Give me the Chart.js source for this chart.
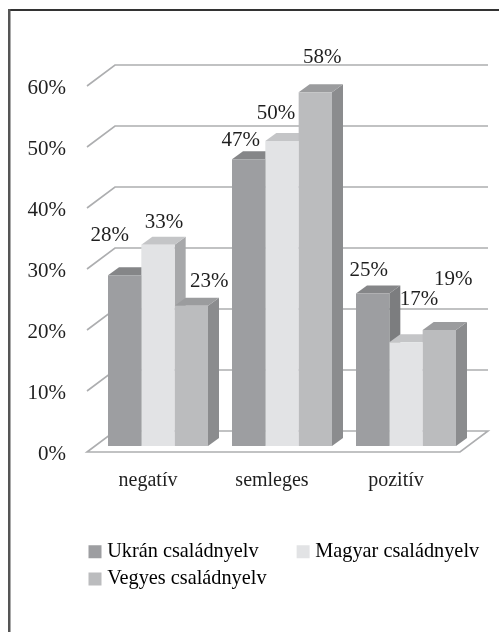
<!DOCTYPE html>
<html><head><meta charset="utf-8">
<style>html,body{margin:0;padding:0;background:#fff}#w{position:relative;width:499px;height:632px}</style>
<script src="https://cdn.jsdelivr.net/npm/chart.js@4/dist/chart.umd.js"></script>
</head><body><div id="w"><canvas id="c"></canvas></div>
<script>
const categories = ['negatív','semleges','pozitív'];
const seriesNames = ['Ukrán családnyelv','Magyar családnyelv','Vegyes családnyelv'];
const ukran = [28,47,25];
const magyar = [33,50,17];
const vegyes = [23,58,19];
const yTicks = [0,10,20,30,40,50,60];

const frontColors = ['#9d9ea1','#e2e3e5','#bbbcbe'];
const topColors = ['#858688','#c4c5c7','#9b9c9e'];
const sideColors = ['#7c7d7f','#a7a8aa','#8b8c8e'];
// label nudges from each bar's top centre [dx, dy]
const labelNudges = [
  [[-15,-40],[6,-22],[18,-24]],
  [[-8,-19],[-6,-28],[7,-35]],
  [[-4,-23],[13,-43],[14,-51]]
];
const FONT = '"Liberation Serif", serif';
const TEXT = '#1f1f1f';
const DX = 11, DY = 8;

const scene = {
  id:'scene',
  beforeDraw(chart){
    const {ctx,width,height} = chart;
    ctx.save();
    ctx.fillStyle='#fff'; ctx.fillRect(0,0,width,height);
    ctx.strokeStyle='#333'; ctx.lineWidth=2;
    ctx.beginPath(); ctx.moveTo(8,10); ctx.lineTo(width,10); ctx.stroke();
    ctx.strokeStyle='#555'; ctx.lineWidth=2.5;
    ctx.beginPath(); ctx.moveTo(9.25,9); ctx.lineTo(9.25,height); ctx.stroke();
    ctx.restore();
  },
  beforeDatasetsDraw(chart){
    const {ctx,chartArea:a} = chart;
    const y = chart.scales.y;
    const x0 = a.left-9, x1 = a.right-8, bx = 28, fr = 6, bk = -15;
    ctx.save();
    ctx.strokeStyle='#adaeb0'; ctx.lineWidth=1.6;
    yTicks.forEach(t=>{
      const p = y.getPixelForValue(t);
      ctx.beginPath();
      ctx.moveTo(x0,p+fr); ctx.lineTo(x0+bx,p+bk); ctx.lineTo(x1+bx,p+bk);
      if(t===0){ ctx.lineTo(x1,p+fr); ctx.closePath(); }
      ctx.stroke();
    });
    categories.forEach((_,i)=>{
      chart.data.datasets.forEach((ds,d)=>{
        const b = chart.getDatasetMeta(d).data[i];
        const l = b.x-b.width/2, r = b.x+b.width/2;
        ctx.fillStyle = sideColors[d];
        ctx.beginPath();
        ctx.moveTo(r,b.y); ctx.lineTo(r+DX,b.y-DY); ctx.lineTo(r+DX,b.base-DY); ctx.lineTo(r,b.base); ctx.closePath(); ctx.fill();
        ctx.fillStyle = topColors[d];
        ctx.beginPath();
        ctx.moveTo(l,b.y); ctx.lineTo(l+DX,b.y-DY); ctx.lineTo(r+DX,b.y-DY); ctx.lineTo(r,b.y); ctx.closePath(); ctx.fill();
      });
    });
    ctx.restore();
  },
  afterDatasetsDraw(chart){
    const {ctx} = chart;
    ctx.save();
    ctx.font = '21px '+FONT; ctx.fillStyle=TEXT; ctx.textAlign='center'; ctx.textBaseline='middle';
    chart.data.datasets.forEach((ds,d)=>{
      chart.getDatasetMeta(d).data.forEach((b,i)=>{
        const [nx,ny] = labelNudges[i][d];
        ctx.fillText(ds.data[i]+'%', b.x+nx, b.y+ny);
      });
    });
    ctx.restore();
  },
  afterLayout(chart){
    const l = chart.legend;
    l.left = 86; l.right = 497; l.top = 534.5;
  }
};

new Chart(document.getElementById('c'),{
  type:'bar',
  data:{labels:categories,datasets:[
    {label:seriesNames[0],data:ukran,backgroundColor:frontColors[0]},
    {label:seriesNames[1],data:magyar,backgroundColor:frontColors[1]},
    {label:seriesNames[2],data:vegyes,backgroundColor:frontColors[2]}
  ]},
  options:{
    responsive:true,maintainAspectRatio:false,animation:false,
    layout:{padding:{top:80,right:31,bottom:0,left:0}},
    datasets:{bar:{categoryPercentage:100/124,barPercentage:1,borderWidth:0}},
    scales:{
      x:{grid:{display:false},border:{display:false},
        ticks:{color:TEXT,font:{family:FONT,size:20},padding:15,labelOffset:-10,maxRotation:0},
        afterFit(s){ s.height = 186-(s.chart.legend?s.chart.legend.height:0); }},
      y:{min:0,max:60,afterBuildTicks(s){ s.ticks = yTicks.map(v=>({value:v})); },
        grid:{display:false,drawTicks:false},border:{display:false},
        ticks:{color:TEXT,font:{family:FONT,size:21},padding:30,labelOffset:8,callback:v=>v+'%'},
        afterFit(s){ s.width = 96; }}
    },
    plugins:{
      tooltip:{enabled:false},
      legend:{position:'bottom',align:'start',
        labels:{boxWidth:4,boxHeight:4,padding:7,color:TEXT,font:{family:FONT,size:20.3},
          generateLabels(chart){
            return chart.data.datasets.map((ds,i)=>({
              text: i===0 ? ds.label+'\u00A0'.repeat(7) : ds.label,
              fillStyle:ds.backgroundColor,strokeStyle:ds.backgroundColor,lineWidth:9,datasetIndex:i,hidden:false
            }));
          }}}
    }
  },
  plugins:[scene]
});
</script></body></html>
